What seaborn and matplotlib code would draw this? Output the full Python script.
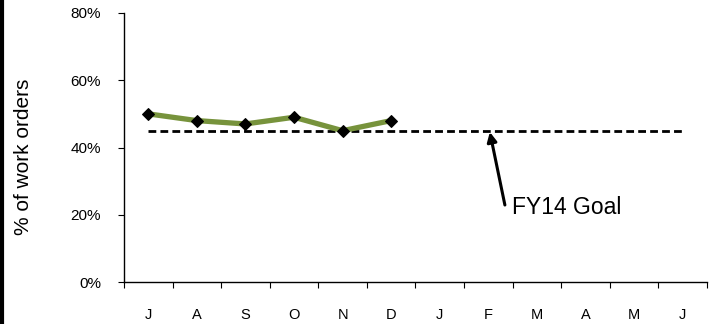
import matplotlib
matplotlib.use("Agg")
import matplotlib.pyplot as plt
from matplotlib.lines import Line2D
import seaborn as sns
import pandas as pd
import numpy as np

months = ["J", "A", "S", "O", "N", "D", "J", "F", "M", "A", "M", "J"]
actual = [50, 48, 47, 49, 45, 48]
goal = 45
yticks = [0, 20, 40, 60, 80]

sns.set_style("white")
plt.rcParams['font.family'] = ['Liberation Sans', 'DejaVu Sans']
plt.rcParams['text.color'] = 'black'
plt.rcParams['axes.labelcolor'] = 'black'
plt.rcParams['xtick.color'] = 'black'
plt.rcParams['ytick.color'] = 'black'

fig = plt.figure(figsize=(7.1, 3.24), dpi=100)
ax = fig.add_axes([0.1746, 0.1296, 0.8212, 0.8303])

pos = np.arange(len(months))
df = pd.DataFrame({"x": pos[:len(actual)], "y": actual})
gdf = pd.DataFrame({"x": pos, "y": [goal] * len(months)})

sns.lineplot(data=gdf, x="x", y="y", ax=ax, color="black", linestyle=(0, (2.8, 1.5)),
             linewidth=2.0)
sns.lineplot(data=df, x="x", y="y", ax=ax, color="#77933C", linewidth=3.8,
             marker="D", markersize=6.5, markerfacecolor="black",
             markeredgecolor="black")

ax.set_xlim(-0.5, len(months) - 0.5)
ax.set_ylim(0, 80)
ax.set_yticks(yticks)
ax.set_yticklabels([f"{v}%" for v in yticks], fontsize=11)
ax.set_xticks(np.arange(-0.5, len(months)), labels=[""] * (len(months) + 1))
ax.set_xticks(pos, labels=months, minor=True, fontsize=10.5)
ax.tick_params(axis="x", which="major", direction="out", length=4, width=0.8,
               color="black", bottom=True)
ax.tick_params(axis="x", which="minor", length=0, pad=19, bottom=True)
ax.tick_params(axis="y", direction="out", length=4, width=0.8, color="black",
               left=True, pad=12.5)
for s in ["top", "right"]:
    ax.spines[s].set_visible(False)
for s in ["left", "bottom"]:
    ax.spines[s].set_color("black")
    ax.spines[s].set_linewidth(1.0)
ax.set_xlabel("")
ax.set_ylabel("% of work orders", fontsize=15)
ax.yaxis.set_label_coords(-0.156, 0.465)

ax.annotate("", xy=(7.03, 44.6), xytext=(7.34, 22.9),
            arrowprops=dict(arrowstyle="-|>", color="black", lw=2.2,
                            shrinkA=0, shrinkB=0, mutation_scale=14))
ax.text(7.48, 20.2, "FY14 Goal", fontsize=16.5, ha="left", va="baseline")

fig.add_artist(Line2D([0.003, 0.003], [0, 1], transform=fig.transFigure,
                      color="black", linewidth=3))

fig.savefig("out.png", dpi=100)
